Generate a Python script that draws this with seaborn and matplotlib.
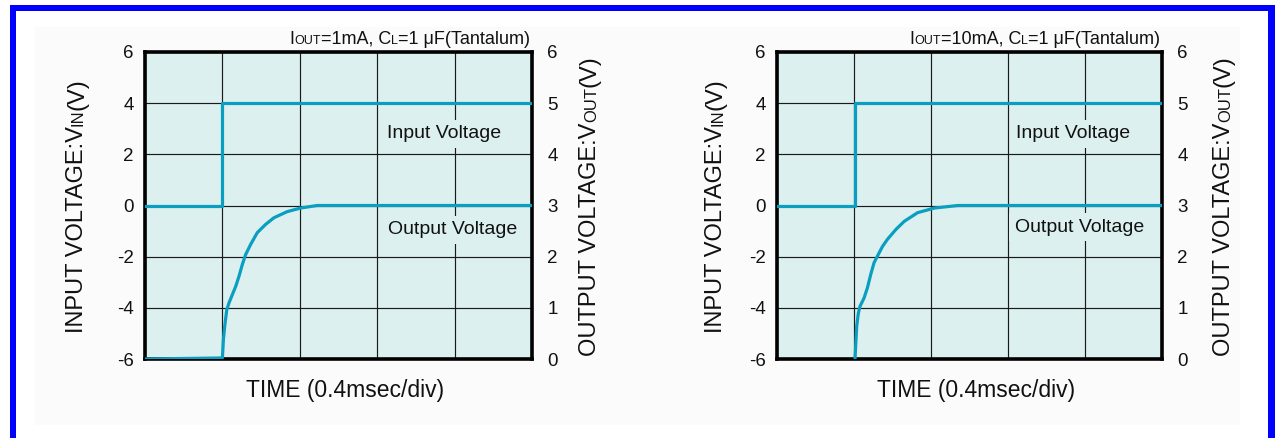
import matplotlib
matplotlib.use("Agg")
import matplotlib.pyplot as plt
import seaborn as sns
from matplotlib.transforms import IdentityTransform
from matplotlib.patches import Rectangle

# ---------------- data ----------------
time_ticks = [0, 1, 2, 3, 4, 5]
vin_ticks = [-6, -4, -2, 0, 2, 4, 6]
vout_ticks = [0, 1, 2, 3, 4, 5, 6]

# panel 1: IOUT = 1mA
in1_t = [0.0, 1.0, 1.0, 5.0]
in1_v = [0.0, 0.0, 4.0, 4.0]
out1_t = [0.0, 1.0, 1.013, 1.030, 1.056, 1.086, 1.129, 1.172, 1.215, 1.258, 1.300,
          1.365, 1.451, 1.558, 1.665, 1.837, 2.009, 2.223, 5.0]
out1_v = [0.0, 0.02, 0.38, 0.64, 0.96, 1.10, 1.26, 1.42, 1.62, 1.85, 2.04,
          2.24, 2.47, 2.63, 2.76, 2.88, 2.95, 3.0, 3.0]

# panel 2: IOUT = 10mA
in2_t = [0.0, 1.013, 1.013, 5.0]
in2_v = [0.0, 0.0, 4.0, 4.0]
out2_t = [1.013, 1.026, 1.035, 1.057, 1.078, 1.130, 1.174, 1.217, 1.260, 1.304,
          1.370, 1.435, 1.543, 1.652, 1.826, 2.043, 2.348, 5.0]
out2_v = [0.0, 0.38, 0.64, 0.90, 1.03, 1.19, 1.39, 1.65, 1.88, 2.01,
          2.20, 2.34, 2.53, 2.69, 2.86, 2.95, 3.0, 3.0]

titles = [
    [("I", 13, 0), ("OUT", 9.0, 0), ("=1mA, C", 13, 0), ("L", 9.0, 0), ("=1 μF(Tantalum)", 13, 0)],
    [("I", 13, 0), ("OUT", 9.0, 0), ("=10mA, C", 13, 0), ("L", 9.0, 0), ("=1 μF(Tantalum)", 13, 0)],
]
xlabel = "TIME (0.4msec/div)"
ylabel_left = [("INPUT VOLTAGE:V", 17, 0), ("IN", 12, 0), ("(V)", 17, 0)]
ylabel_right = [("OUTPUT VOLTAGE:V", 17, 0), ("OUT", 12, 0), ("(V)", 17, 0)]
label_in = "Input Voltage"
label_out = "Output Voltage"

# ---------------- style ----------------
sns.set_theme(style="white")
plt.rcParams['font.family'] = ['Liberation Sans', 'DejaVu Sans']

W, H = 1275, 438
fig = plt.figure(figsize=(W / 100, H / 100), dpi=100)
fig.patch.set_facecolor("white")

# faint inner panel + blue frame
fig.patches.append(Rectangle((35 / W, 1 - 425 / H), (1240 - 35) / W, (425 - 27) / H,
                             transform=fig.transFigure, facecolor="#fbfbfb", edgecolor="none", zorder=-10))
blue = "#0000ff"
fig.patches.append(Rectangle((10 / W, 0), 6 / W, 1 - 5 / H, transform=fig.transFigure,
                             facecolor=blue, edgecolor="none", zorder=-5))
fig.patches.append(Rectangle((10 / W, 1 - 11 / H), (1275 - 10) / W, 6 / H, transform=fig.transFigure,
                             facecolor=blue, edgecolor="none", zorder=-5))
fig.patches.append(Rectangle((1268 / W, 0), 7 / W, 1 - 5 / H, transform=fig.transFigure,
                             facecolor=blue, edgecolor="none", zorder=-5))

LINE = "#0a9ec0"
FACE = "#ddf0f0"
renderer = fig.canvas.get_renderer()


def piece_text(x_px, y_px, parts, rot=0, align="center"):
    """Draw text made of pieces of different sizes along one baseline.
    x_px, y_px: anchor in image pixels (y from top)."""
    objs = []
    total = 0.0
    for s, fs, _ in parts:
        t = fig.text(0, 0, s, fontsize=fs, transform=IdentityTransform(), rotation=rot,
                     rotation_mode="anchor", ha="left", va="baseline", color="#111111")
        bb = t.get_window_extent(renderer)
        L = bb.width if rot == 0 else bb.height
        objs.append((t, L))
        total += L
    yd = H - y_px
    if align == "center":
        start = -total / 2
    elif align == "right":
        start = -total
    else:
        start = 0
    pos = start
    for t, L in objs:
        if rot == 0:
            t.set_position((x_px + pos, yd))
        else:
            t.set_position((x_px, yd + pos))
        pos += L


panels = [
    dict(x0=145, x1=532, in_t=in1_t, in_v=in1_v, out_t=out1_t, out_v=out1_v, title=titles[0],
         ylx=83, yrx=596, lab_in=(3.87, 2.8), lab_out=(3.98, -0.95)),
    dict(x0=777, x1=1162, in_t=in2_t, in_v=in2_v, out_t=out2_t, out_v=out2_v, title=titles[1],
         ylx=722, yrx=1230, lab_in=(3.84, 2.8), lab_out=(3.93, -0.85)),
]
y_top, y_bot = 52, 359

for p in panels:
    ax = fig.add_axes([p["x0"] / W, 1 - y_bot / H, (p["x1"] - p["x0"]) / W, (y_bot - y_top) / H])
    ax.set_facecolor(FACE)
    ax.set_xlim(time_ticks[0], time_ticks[-1])
    ax.set_ylim(vin_ticks[0], vin_ticks[-1])
    ax.set_xticks(time_ticks)
    ax.set_xticklabels([])
    ax.set_yticks(vin_ticks)
    ax.set_yticklabels([str(v) for v in vin_ticks])
    ax.grid(True, color="#1a1a1a", lw=0.85)
    ax.set_axisbelow(True)
    ax.tick_params(length=0, pad=8, labelsize=13.5, colors="#111111")
    for s in ax.spines.values():
        s.set_visible(True)
        s.set_color("black")
        s.set_linewidth(2.6)

    sns.lineplot(x=p["in_t"], y=p["in_v"], ax=ax, estimator=None, sort=False,
                 color=LINE, lw=2.3, zorder=3)

    ax2 = ax.twinx()
    ax2.set_ylim(vout_ticks[0], vout_ticks[-1])
    ax2.set_yticks(vout_ticks)
    ax2.set_yticklabels([str(v) for v in vout_ticks])
    ax2.tick_params(length=0, pad=11, labelsize=13.5, colors="#111111")
    for s in ax2.spines.values():
        s.set_visible(False)
    ax2.grid(False)
    sns.lineplot(x=p["out_t"], y=p["out_v"], ax=ax2, estimator=None, sort=False,
                 color=LINE, lw=2.3, zorder=3)
    ax2.set_xlim(time_ticks[0], time_ticks[-1])

    bb = dict(facecolor=FACE, edgecolor="none", pad=4)
    ax.text(p["lab_in"][0], p["lab_in"][1], label_in, fontsize=14, ha="center", va="center",
            color="#111111", bbox=bb, zorder=4)
    ax.text(p["lab_out"][0], p["lab_out"][1], label_out, fontsize=14, ha="center", va="center",
            color="#111111", bbox=bb, zorder=4)

    # labels
    cx = (p["x0"] + p["x1"]) / 2 + 7
    fig.text(cx / W, 1 - 397 / H, xlabel, fontsize=16.5, ha="center", va="baseline", color="#111111")
    cy = (y_top + y_bot) / 2
    piece_text(p["ylx"], cy, ylabel_left, rot=90, align="center")
    piece_text(p["yrx"], cy, ylabel_right, rot=90, align="center")
    piece_text(p["x1"] - 2, 44, p["title"], rot=0, align="right")

fig.savefig("out.png", dpi=100)
